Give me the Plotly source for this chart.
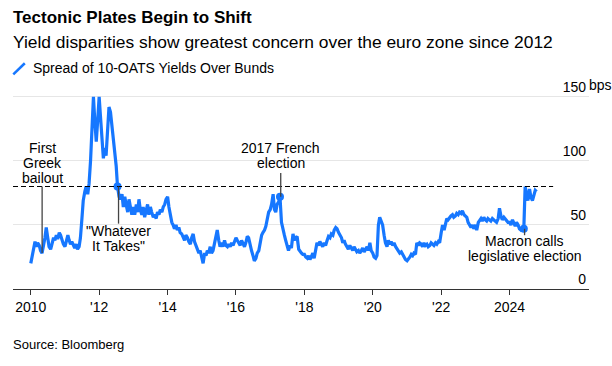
import pandas as pd
import plotly.graph_objects as go

# ---------------- data ----------------
title_text = "Tectonic Plates Begin to Shift"
subtitle_text = "Yield disparities show greatest concern over the euro zone since 2012"
series_name = "Spread of 10-OATS Yields Over Bunds"
source_text = "Source: Bloomberg"

start_date = "2010-01-01"  # semi-monthly observations (1st and 15th)
spread_2010 = [20, 26, 30, 37, 33, 36, 34, 30, 28, 33, 40, 48, 40, 33, 31, 36, 40, 38, 42, 39, 44, 42, 38, 35]
spread_2011 = [33, 37, 42, 38, 35, 37, 34, 32, 35, 31, 33, 40, 55, 69, 76, 80, 74, 82, 100, 125, 150, 132, 115, 130]
spread_2012 = [150, 135, 115, 102, 110, 104, 125, 142, 138, 128, 118, 108, 96, 80, 72, 70, 74, 64, 72, 66, 60, 70, 63, 58]
spread_2013 = [64, 58, 66, 60, 70, 62, 58, 64, 56, 62, 66, 58, 64, 60, 56, 58, 55, 60, 58, 62, 60, 64, 66, 70]
spread_2014 = [72, 64, 56, 52, 50, 47, 50, 46, 48, 44, 43, 40, 38, 42, 40, 37, 35, 40, 43, 37, 33, 30, 28, 30]
spread_2015 = [24, 20, 28, 26, 30, 28, 33, 28, 30, 36, 41, 46, 38, 33, 36, 33, 38, 34, 33, 35, 33, 36, 34, 37]
spread_2016 = [40, 38, 36, 34, 38, 35, 33, 36, 41, 40, 33, 30, 26, 22, 24, 28, 30, 36, 42, 44, 46, 49, 56, 60]
spread_2017 = [62, 66, 74, 62, 60, 66, 68, 72, 52, 46, 42, 38, 33, 30, 34, 32, 43, 38, 40, 41, 31, 29, 28, 27]
spread_2018 = [27, 25, 24, 26, 23, 25, 28, 24, 30, 36, 34, 37, 35, 33, 36, 34, 38, 41, 40, 43, 42, 46, 48, 47]
spread_2019 = [44, 42, 40, 36, 38, 35, 33, 31, 34, 32, 30, 33, 31, 29, 30, 28, 30, 32, 29, 31, 33, 30, 36, 30]
spread_2020 = [28, 25, 24, 26, 50, 56, 52, 50, 42, 36, 33, 38, 35, 37, 34, 36, 33, 31, 30, 28, 29, 27, 25, 23]
spread_2021 = [22, 23, 25, 27, 26, 28, 27, 36, 34, 36, 35, 33, 36, 34, 35, 33, 34, 36, 35, 34, 36, 35, 37, 36]
spread_2022 = [44, 50, 46, 52, 55, 54, 56, 57, 58, 56, 57, 59, 58, 60, 59, 61, 58, 57, 56, 52, 50, 48, 50, 47]
spread_2023 = [50, 46, 52, 54, 55, 53, 56, 54, 53, 55, 54, 53, 55, 54, 53, 52, 55, 63, 57, 54, 56, 55, 53, 52]
spread_2024 = [52, 50, 54, 51, 49, 52, 50, 47, 46, 47, 47, 80, 74, 69, 78, 72, 69, 74, 77, 76]

threshold_bps = 80
threshold_end = "2025-04-10"

x_tick_dates = ["2010-01-01", "2012-01-01", "2014-01-01", "2016-01-01",
                "2018-01-01", "2020-01-01", "2022-01-01", "2024-01-01"]
x_tick_labels = ["2010", "'12", "'14", "'16", "'18", "'20", "'22", "2024"]
y_tick_values = [0, 50, 100, 150]
y_tick_labels = ["0", "50", "100", "150"]
y_unit = "bps"

event_dates = ["2010-05-02", "2012-07-26", "2017-04-23", "2024-06-09"]
event_labels = [["First", "Greek", "bailout"],
                ['"Whatever', 'It Takes"'],
                ["2017 French", "election"],
                ["Macron calls", "legislative election"]]

# ---------------- build ----------------
spread_bps = (spread_2010 + spread_2011 + spread_2012 + spread_2013 + spread_2014 +
              spread_2015 + spread_2016 + spread_2017 + spread_2018 + spread_2019 +
              spread_2020 + spread_2021 + spread_2022 + spread_2023 + spread_2024)
dates = pd.date_range(start_date, periods=len(spread_bps), freq="SMS")
series = pd.Series(spread_bps, index=dates)

FONT = "Liberation Sans, Arial, Helvetica, sans-serif"
BLUE = "#1677ff"
TXT = "#000000"
X_RANGE = ["2009-06-25", "2026-04-28"]

fig = go.Figure()
fig.add_trace(go.Scatter(x=dates, y=spread_bps, mode="lines",
                         line=dict(color=BLUE, width=3.2), name=series_name,
                         showlegend=False, hoverinfo="skip"))

# threshold dashed line
fig.add_shape(type="line", xref="x", yref="y", x0=X_RANGE[0], x1=threshold_end,
              y0=threshold_bps, y1=threshold_bps,
              line=dict(color="#000", width=1.2, dash="5px,3px"), layer="above")

# event placement (style only): top-line centre (bps), connector range, dot
placement = [
    dict(text_top=110.0, conn=("thr", "val"), dot=False),
    dict(text_top=44.9, conn=("val", 51), dot=True),
    dict(text_top=109.7, conn=(90.6, "val"), dot=True),
    dict(text_top=37.1, conn=("val", 42), dot=True),
]
LINE_STEP = 15
dot_x, dot_y = [], []
for d, lines, p in zip(event_dates, event_labels, placement):
    dt = pd.Timestamp(d)
    before = series[series.index <= dt]
    val = float(before.iloc[-1])

    def resolve(v):
        if v == "val":
            return val
        if v == "thr":
            return threshold_bps
        return v

    y0, y1 = resolve(p["conn"][0]), resolve(p["conn"][1])
    fig.add_shape(type="line", xref="x", yref="y", x0=dt, x1=dt, y0=y0, y1=y1,
                  line=dict(color="#444", width=1.3), layer="above")
    if p["dot"]:
        dot_x.append(before.index[-1])
        dot_y.append(val)
    for k, ln in enumerate(lines):
        fig.add_annotation(x=dt, y=p["text_top"], xref="x", yref="y", text=ln,
                           showarrow=False, xanchor="center", yanchor="middle",
                           yshift=-k * LINE_STEP,
                           font=dict(family=FONT, size=14, color=TXT))

fig.add_trace(go.Scatter(x=dot_x, y=dot_y, mode="markers",
                         marker=dict(color=BLUE, size=8), showlegend=False,
                         hoverinfo="skip"))

# headings
fig.add_annotation(x=0, y=1.265, xref="paper", yref="paper", text="<b>" + title_text + "</b>",
                   showarrow=False, xanchor="left", yanchor="middle", xshift=-2,
                   font=dict(family=FONT, size=17, color=TXT))
fig.add_annotation(x=0, y=1.147, xref="paper", yref="paper", text=subtitle_text,
                   showarrow=False, xanchor="left", yanchor="middle", xshift=-2,
                   font=dict(family=FONT, size=17.4, color=TXT))
fig.add_annotation(x=0.0305, y=1.028, xref="paper", yref="paper", text=series_name,
                   showarrow=False, xanchor="left", yanchor="middle",
                   font=dict(family=FONT, size=14, color=TXT))
fig.add_shape(type="line", xref="paper", yref="paper", x0=0.0005, y0=0.998, x1=0.0205, y1=1.050,
              line=dict(color=BLUE, width=2.5))
fig.add_annotation(x=0, y=-0.256, xref="paper", yref="paper", text=source_text,
                   showarrow=False, xanchor="left", yanchor="middle", xshift=-2,
                   font=dict(family=FONT, size=13, color=TXT))
fig.add_annotation(x=1, y=150, xref="paper", yref="y", text=y_unit,
                   showarrow=False, xanchor="left", yanchor="middle", xshift=-2, yshift=12,
                   font=dict(family=FONT, size=14, color=TXT))

fig.update_layout(
    width=612, height=366,
    margin=dict(l=13, r=23, t=74, b=77),
    paper_bgcolor="white", plot_bgcolor="white",
    showlegend=False,
    font=dict(family=FONT, size=14, color=TXT),
    xaxis=dict(type="date", range=X_RANGE,
               tickvals=x_tick_dates, ticktext=x_tick_labels,
               showgrid=False, zeroline=False, showline=True, linecolor="#333", linewidth=1,
               ticks="outside", ticklen=5, tickcolor="#333", tickwidth=1,
               tickfont=dict(family=FONT, size=14, color=TXT), fixedrange=True),
    yaxis=dict(range=[0, 167.8], side="right", tickvals=y_tick_values, ticktext=y_tick_labels,
               ticklabelposition="inside top", showgrid=True, gridcolor="#e6e6e6", gridwidth=1,
               zeroline=False, showline=False, ticks="",
               tickfont=dict(family=FONT, size=14, color=TXT), fixedrange=True),
)

fig.write_html("out.html", config={"displayModeBar": False},
               post_script="document.body.style.margin='0px';document.body.style.padding='0px';")
